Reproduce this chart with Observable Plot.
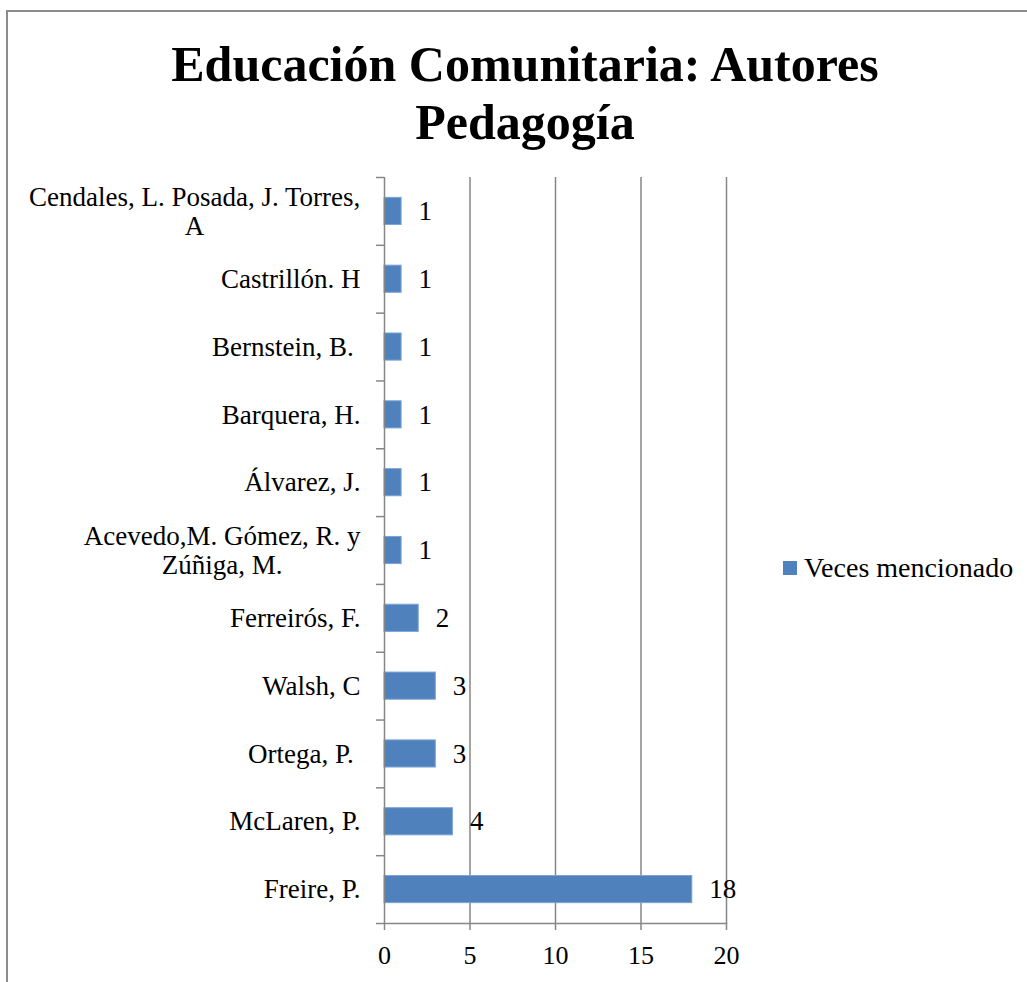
<!DOCTYPE html>
<html>
<head>
<meta charset="utf-8">
<script src="https://cdn.jsdelivr.net/npm/d3@7"></script>
<script src="https://cdn.jsdelivr.net/npm/@observablehq/plot@0.6"></script>
<style>
  html, body { margin: 0; padding: 0; background: #fff; width: 1027px; height: 982px; overflow: hidden; }
  body { position: relative; font-family: "Liberation Serif", serif; }
  #frame { position: absolute; left: 6px; top: 10px; width: 1040px; height: 1000px; border: 2px solid #8c8c8c; box-sizing: border-box; }
  #title { position: absolute; left: 7px; width: 1036px; top: 35px; text-align: center; font-weight: bold; font-size: 50px; line-height: 58px; color: #000; }
  #chart { position: absolute; left: 0; top: 150px; }
  #legend { position: absolute; left: 783px; top: 551px; font-size: 28px; line-height: 34px; display: flex; align-items: center; }
  #legend .sw { width: 14px; height: 14px; background: #4F81BD; margin-right: 7px; }
  svg text { white-space: pre; }
</style>
</head>
<body>
<div id="frame"></div>
<div id="title">Educación Comunitaria: Autores<br>Pedagogía</div>
<div id="chart"></div>
<div id="legend"><div class="sw"></div><span>Veces mencionado</span></div>
<script>
const authors = ["Freire, P.", "McLaren, P.", "Ortega, P. ", "Walsh, C", "Ferreirós, F.", "Acevedo,M. Gómez, R. y Zúñiga, M.", "Álvarez, J.", "Barquera, H.", "Bernstein, B. ", "Castrillón. H", "Cendales, L. Posada, J. Torres, A"];
const authorLabels = ["Freire, P.", "McLaren, P.", "Ortega, P. ", "Walsh, C", "Ferreirós, F.", "Acevedo,M. Gómez, R. y\nZúñiga, M.", "Álvarez, J.", "Barquera, H.", "Bernstein, B. ", "Castrillón. H", "Cendales, L. Posada, J. Torres,\nA"];
const mentions = [18, 4, 3, 3, 2, 1, 1, 1, 1, 1, 1];
const xTicks = [0, 5, 10, 15, 20];
const gridTicks = [5, 10, 15, 20];

const data = authors.map((a, i) => ({author: a, label: authorLabels[i], value: mentions[i]}));
const single = data.filter(d => !d.label.includes("\n"));
const multi = data.filter(d => d.label.includes("\n"));

const W = 780, H = 832, mt = 27, mb = 59, ml = 384, mr = 54;
const step = (H - mt - mb) / authors.length;
const fontSize = 27;
const font = `${fontSize}px "Liberation Serif"`;
const ctx = document.createElement("canvas").getContext("2d");
ctx.font = font;
const maxLineW = s => Math.max(...s.split("\n").map(l => ctx.measureText(l).width));
const gap = 24;
const grey = "#868686";

const chart = Plot.plot({
  width: W, height: H,
  marginTop: mt, marginBottom: mb, marginLeft: ml, marginRight: mr,
  style: {fontFamily: '"Liberation Serif", serif', fontSize: fontSize + "px", color: "#000", background: "transparent", overflow: "visible"},
  x: {domain: [0, 20]},
  y: {domain: authors.slice().reverse(), paddingInner: 0.6, paddingOuter: 0.3, round: false, axis: null},
  marks: [
    Plot.ruleX(gridTicks, {stroke: grey, strokeWidth: 1.5}),
    Plot.barX(data, {x: "value", y: "author", fill: "#4F81BD", stroke: "#7aa3d6", strokeWidth: 1}),
    Plot.ruleX([0], {stroke: grey, strokeWidth: 1.5}),
    Plot.frame({anchor: "bottom", stroke: grey, strokeWidth: 1.5}),
    Plot.ruleY(authors, {y: d => d, x1: -0.47, x2: 0, dy: -step / 2, stroke: grey, strokeWidth: 1.5}),
    Plot.ruleY([authors[0]], {y: d => d, x1: -0.47, x2: 0, dy: step / 2, stroke: grey, strokeWidth: 1.5}),
    Plot.axisX({ticks: xTicks, tickSize: 7, tickPadding: 15, stroke: grey, strokeWidth: 1.5, fill: "#000", fontSize: 26, label: null, tickFormat: d => String(d)}),
    Plot.text(data, {x: "value", y: "author", text: d => String(d.value), textAnchor: "start", dx: 17, fill: "#000", fontSize: 27}),
    Plot.text(single, {x: 0, y: "author", text: "label", textAnchor: "end", dx: -gap, fill: "#000", fontSize}),
    Plot.text(multi, {x: 0, y: "author", text: "label", textAnchor: "middle", lineHeight: 1.06, fill: "#000", fontSize})
  ]
});
// shift multi-line labels so their widest line ends at the same right edge as single labels
d3.select(chart).selectAll("g[aria-label=text]").filter((d, i) => i === 2).selectAll("text").each(function(_, i) {
  const w = maxLineW(multi[i].label);
  const t = d3.select(this);
  const tr = t.attr("transform") || "";
  t.attr("transform", tr + ` translate(${-(gap + w / 2)},0)`);
});
document.getElementById("chart").appendChild(chart);
</script>
</body>
</html>
